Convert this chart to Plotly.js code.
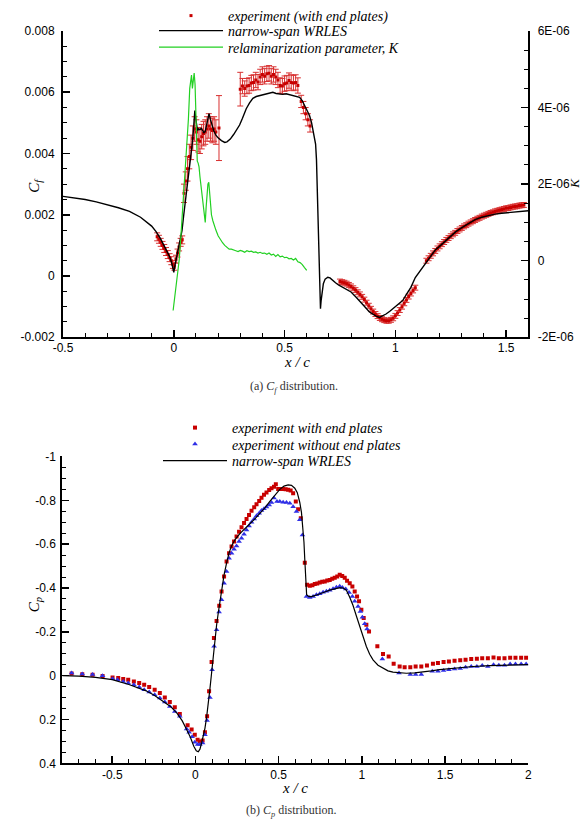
<!DOCTYPE html>
<html>
<head>
<meta charset="utf-8">
<script src="https://cdn.plot.ly/plotly-3.0.1.min.js"></script>
<style>
  html, body { margin: 0; padding: 0; background: #fff; }
  #chart { width: 581px; height: 830px; }
</style>
</head>
<body>
<div id="chart"></div>
<script>
// ---------- (a) skin friction coefficient ----------
// narrow-span WRLES, C_f along x/c
const cfLesX = [-0.50,-0.45,-0.40,-0.35,-0.30,-0.25,-0.20,-0.15,-0.10,-0.08,-0.06,-0.04,-0.02,-0.01,0.000,0.004,0.010,0.015,0.020,0.030,0.037,0.045,0.052,0.060,0.068,0.077,0.083,0.088,0.092,0.095,0.099,0.103,0.107,0.112,0.118,0.124,0.130,0.136,0.142,0.148,0.153,0.159,0.165,0.172,0.180,0.190,0.200,0.215,0.230,0.240,0.255,0.270,0.285,0.297,0.310,0.327,0.342,0.357,0.372,0.387,0.402,0.417,0.432,0.447,0.462,0.477,0.492,0.507,0.522,0.537,0.552,0.568,0.580,0.590,0.600,0.613,0.622,0.628,0.635,0.640,0.644,0.647,0.650,0.653,0.656,0.658,0.660,0.662,0.665,0.669,0.675,0.683,0.695,0.705,0.718,0.730,0.745,0.760,0.780,0.800,0.823,0.845,0.865,0.883,0.898,0.913,0.928,0.943,0.958,0.975,0.995,1.015,1.033,1.050,1.070,1.090,1.110,1.123,1.140,1.160,1.180,1.198,1.220,1.245,1.273,1.300,1.330,1.360,1.390,1.420,1.450,1.480,1.510,1.540,1.570,1.600];
const cfLesY = [0.00260,0.00256,0.00250,0.00242,0.00233,0.00223,0.00211,0.00192,0.00163,0.00145,0.00122,0.00095,0.00065,0.00045,0.00012,0.00030,0.00052,0.00062,0.00080,0.00120,0.00148,0.00200,0.00240,0.00280,0.00325,0.00377,0.00430,0.00470,0.00510,0.00540,0.00515,0.00485,0.00475,0.00480,0.00478,0.00482,0.00474,0.00468,0.00472,0.00496,0.00515,0.00530,0.00512,0.00493,0.00475,0.00460,0.00451,0.00442,0.00436,0.00438,0.00447,0.00462,0.00478,0.00493,0.00515,0.00546,0.00565,0.00580,0.00586,0.00589,0.00591,0.00594,0.00596,0.00600,0.00596,0.00595,0.00593,0.00595,0.00592,0.00590,0.00588,0.00583,0.00572,0.00556,0.00542,0.00523,0.00500,0.00474,0.00450,0.00431,0.00380,0.00300,0.00220,0.00138,0.00050,-0.00025,-0.00080,-0.00107,-0.00080,-0.00047,-0.00025,-0.00010,-0.00004,-0.00006,-0.00015,-0.00022,-0.00030,-0.00036,-0.00043,-0.00052,-0.00069,-0.00085,-0.00103,-0.00117,-0.00125,-0.00131,-0.00135,-0.00130,-0.00124,-0.00115,-0.00103,-0.00092,-0.00080,-0.00060,-0.00037,-0.00005,0.00015,0.00029,0.00048,0.00067,0.00085,0.00096,0.00110,0.00128,0.00145,0.00158,0.00172,0.00184,0.00192,0.00198,0.00202,0.00205,0.00207,0.00209,0.00211,0.00213];

// experiment (with end plates): C_f and its uncertainty
const cfExpX = [-0.075,-0.067,-0.059,-0.051,-0.043,-0.035,-0.027,-0.019,-0.011,-0.004,0.003,0.010,0.017,0.024,0.031,0.038,
  0.046,0.054,0.062,0.070,0.078,0.086,0.094,0.102,0.110,0.118,0.126,0.134,0.142,0.150,0.158,0.166,0.174,0.182,0.190,0.204,
  0.30,0.31,0.32,0.33,0.34,0.35,0.36,0.37,0.38,0.39,0.40,0.41,0.42,0.43,0.44,0.45,0.46,0.47,0.48,0.49,0.50,0.51,0.52,0.53,0.54,0.55,0.56,0.575,0.585,0.595,0.605,0.615,
  0.75,0.76,0.77,0.78,0.79,0.80,0.81,0.82,0.83,0.84,0.85,0.86,0.87,0.88,0.89,0.90,0.91,0.92,0.93,0.94,0.95,0.96,0.97,0.98,0.99,1.00,1.01,1.02,1.03,1.04,1.05,1.06,1.07,1.08,1.09,
  1.14,1.15,1.16,1.17,1.18,1.19,1.20,1.21,1.22,1.23,1.24,1.25,1.26,1.27,1.28,1.29,1.30,1.31,1.32,1.33,1.34,1.35,1.36,1.37,1.38,1.39,1.40,1.41,1.42,1.43,1.44,1.45,1.46,1.47,1.48,1.49,1.50,1.51,1.52,1.53,1.54,1.55,1.56,1.57,1.58];
const cfExpY = [0.00128,0.00120,0.00110,0.00100,0.00090,0.00080,0.00070,0.00060,0.00050,0.00038,0.00032,0.00055,0.00075,0.00095,0.00110,0.00118,
  0.00270,0.00310,0.00350,0.00390,0.00420,0.00450,0.00480,0.00470,0.00445,0.00440,0.00455,0.00465,0.00470,0.00480,0.00490,0.00480,0.00475,0.00480,0.00470,0.00483,
  0.00610,0.00620,0.00612,0.00620,0.00622,0.00630,0.00632,0.00640,0.00633,0.00650,0.00658,0.00652,0.00660,0.00662,0.00652,0.00658,0.00650,0.00640,0.00622,0.00620,0.00628,0.00630,0.00638,0.00632,0.00630,0.00632,0.00622,0.00570,0.00550,0.00530,0.00510,0.00490,
  -0.00018,-0.00020,-0.00022,-0.00025,-0.00029,-0.00034,-0.00040,-0.00046,-0.00053,-0.00060,-0.00068,-0.00077,-0.00087,-0.00097,-0.00107,-0.00116,-0.00124,-0.00131,-0.00137,-0.00141,-0.00144,-0.00146,-0.00146,-0.00143,-0.00138,-0.00130,-0.00121,-0.00111,-0.00100,-0.00089,-0.00078,-0.00067,-0.00057,-0.00047,-0.00038,
  0.00050,0.00058,0.00066,0.00074,0.00082,0.00090,0.00097,0.00104,0.00111,0.00118,0.00124,0.00130,0.00136,0.00141,0.00147,0.00152,0.00157,0.00162,0.00166,0.00171,0.00175,0.00179,0.00183,0.00187,0.00190,0.00194,0.00197,0.00200,0.00203,0.00206,0.00208,0.00211,0.00213,0.00215,0.00217,0.00219,0.00221,0.00222,0.00224,0.00226,0.00227,0.00228,0.00230,0.00231,0.00232];
const cfExpErr = [0.00013,0.00013,0.00013,0.00013,0.00013,0.00013,0.00013,0.00013,0.00013,0.00013,0.00013,0.00013,0.00013,0.00013,0.00013,0.00013,
  0.0003,0.0003,0.0004,0.0004,0.0004,0.0004,0.0004,0.0004,0.0004,0.0004,0.0004,0.0004,0.0004,0.0004,0.0004,0.0004,0.0004,0.0004,0.0004,0.00106,
  0.00055,0.00025,0.00025,0.00025,0.00025,0.00025,0.00025,0.00025,0.00025,0.00025,0.00025,0.00025,0.00025,0.00025,0.00025,0.00025,0.00025,0.00025,0.00025,0.00025,0.00025,0.00025,0.00025,0.00025,0.00025,0.00025,0.00025,0.0002,0.0002,0.0002,0.0002,0.0002,
  0.00008,0.00008,0.00008,0.00008,0.00008,0.00008,0.00008,0.00008,0.00008,0.00008,0.00008,0.00008,0.00008,0.00008,0.00008,0.00008,0.00008,0.00008,0.00008,0.00008,0.00008,0.00008,0.00008,0.00008,0.00008,0.00008,0.00008,0.00008,0.00008,0.00008,0.00008,0.00008,0.00008,0.00008,0.00008,
  0.00008,0.00008,0.00008,0.00008,0.00008,0.00008,0.00008,0.00008,0.00008,0.00008,0.00008,0.00008,0.00008,0.00008,0.00008,0.00008,0.00008,0.00008,0.00008,0.00008,0.00008,0.00008,0.00008,0.00008,0.00008,0.00008,0.00008,0.00008,0.00008,0.00008,0.00008,0.00008,0.00008,0.00008,0.00008,0.00008,0.00008,0.00008,0.00008,0.00008,0.00008,0.00008,0.00008,0.00008,0.00008];

// relaminarization parameter K (right axis)
const kX = [-0.003,0.003,0.008,0.012,0.018,0.024,0.030,0.036,0.042,0.048,0.054,0.060,0.066,0.072,0.076,0.080,0.084,0.088,0.092,0.096,0.100,0.102,0.106,0.110,0.114,0.118,0.122,0.126,0.130,0.134,0.138,0.142,0.146,0.150,0.154,0.158,0.162,0.166,0.170,0.176,0.182,0.190,0.200,0.210,0.220,0.230,0.240,0.250,0.260,0.270,0.280,0.290,0.300,0.310,0.320,0.330,0.340,0.350,0.360,0.370,0.380,0.390,0.400,0.410,0.420,0.430,0.440,0.450,0.460,0.470,0.480,0.490,0.500,0.510,0.520,0.530,0.540,0.550,0.560,0.570,0.580,0.590,0.600];
const kY = [-1.30e-6,-1.00e-6,-0.80e-6,-0.65e-6,-0.35e-6,0.00e-6,0.45e-6,0.95e-6,1.50e-6,2.00e-6,2.50e-6,3.10e-6,3.70e-6,4.50e-6,4.75e-6,4.85e-6,4.50e-6,4.80e-6,4.90e-6,4.60e-6,3.60e-6,3.00e-6,2.60e-6,2.55e-6,2.45e-6,2.20e-6,2.00e-6,1.90e-6,1.75e-6,1.55e-6,1.20e-6,1.00e-6,1.40e-6,1.75e-6,2.00e-6,2.05e-6,1.80e-6,1.45e-6,1.20e-6,1.05e-6,0.92e-6,0.80e-6,0.65e-6,0.55e-6,0.47e-6,0.40e-6,0.36e-6,0.30e-6,0.30e-6,0.27e-6,0.26e-6,0.24e-6,0.27e-6,0.25e-6,0.22e-6,0.26e-6,0.24e-6,0.25e-6,0.22e-6,0.23e-6,0.20e-6,0.22e-6,0.19e-6,0.20e-6,0.17e-6,0.20e-6,0.15e-6,0.17e-6,0.11e-6,0.16e-6,0.10e-6,0.12e-6,0.08e-6,0.09e-6,0.05e-6,0.06e-6,0.02e-6,0.06e-6,-0.03e-6,-0.05e-6,-0.10e-6,-0.18e-6,-0.25e-6];

// ---------- (b) pressure coefficient ----------
const cpLesX = [-0.80,-0.70,-0.60,-0.50,-0.40,-0.30,-0.25,-0.20,-0.15,-0.11,-0.08,-0.05,-0.03,-0.01,0.005,0.017,0.027,0.037,0.047,0.057,0.067,0.077,0.087,0.097,0.107,0.117,0.127,0.137,0.147,0.157,0.172,0.187,0.202,0.217,0.237,0.267,0.297,0.327,0.357,0.387,0.417,0.447,0.477,0.507,0.532,0.557,0.577,0.597,0.612,0.627,0.637,0.645,0.652,0.657,0.661,0.665,0.668,0.680,0.697,0.720,0.747,0.777,0.807,0.837,0.867,0.887,0.907,0.927,0.947,0.967,0.987,1.007,1.027,1.047,1.067,1.097,1.127,1.157,1.187,1.227,1.267,1.317,1.367,1.417,1.467,1.567,1.667,1.767,1.867,1.967,2.000];
const cpLesY = [0.000,0.002,0.008,0.018,0.040,0.068,0.088,0.112,0.140,0.172,0.205,0.250,0.282,0.322,0.343,0.347,0.335,0.307,0.275,0.240,0.190,0.135,0.060,-0.012,-0.090,-0.164,-0.230,-0.286,-0.340,-0.392,-0.460,-0.513,-0.560,-0.592,-0.620,-0.648,-0.672,-0.693,-0.715,-0.738,-0.765,-0.795,-0.825,-0.850,-0.865,-0.870,-0.868,-0.855,-0.835,-0.790,-0.745,-0.680,-0.610,-0.530,-0.450,-0.390,-0.369,-0.362,-0.361,-0.366,-0.375,-0.382,-0.390,-0.397,-0.402,-0.400,-0.390,-0.358,-0.320,-0.272,-0.225,-0.178,-0.133,-0.098,-0.072,-0.048,-0.033,-0.022,-0.016,-0.012,-0.011,-0.013,-0.016,-0.022,-0.028,-0.036,-0.042,-0.046,-0.049,-0.050,-0.050];

// experiment with end plates
const cpEpX = [-0.744,-0.680,-0.618,-0.558,-0.498,-0.464,-0.434,-0.404,-0.370,-0.338,-0.308,-0.278,-0.245,-0.214,-0.184,-0.154,-0.124,-0.094,-0.047,-0.023,-0.004,0.013,0.027,0.043,0.057,0.070,0.082,0.097,0.111,0.127,0.143,0.157,0.172,0.187,0.202,0.217,0.232,0.247,0.262,0.277,0.292,0.307,0.322,0.337,0.353,0.367,0.383,0.397,0.412,0.427,0.443,0.457,0.472,0.483,0.497,0.512,0.527,0.542,0.557,0.572,0.587,0.603,0.617,0.633,0.657,
  0.671,0.687,0.703,0.717,0.732,0.747,0.762,0.777,0.792,0.807,0.822,0.837,0.852,0.867,0.882,0.897,0.911,0.927,0.943,0.957,0.971,0.983,0.997,1.011,1.027,1.043,1.093,1.127,1.161,1.191,1.227,1.257,1.291,1.323,1.357,1.391,1.427,1.457,1.491,1.523,1.557,1.591,1.623,1.657,1.691,1.723,1.757,1.791,1.823,1.857,1.891,1.923,1.957,1.987];
const cpEpY = [-0.010,-0.007,-0.004,0.001,0.008,0.011,0.015,0.018,0.026,0.033,0.041,0.052,0.064,0.079,0.099,0.120,0.144,0.175,0.226,0.246,0.269,0.292,0.300,0.296,0.258,0.185,0.071,-0.062,-0.172,-0.250,-0.319,-0.384,-0.452,-0.521,-0.559,-0.589,-0.612,-0.635,-0.657,-0.677,-0.696,-0.715,-0.733,-0.752,-0.768,-0.782,-0.797,-0.812,-0.825,-0.835,-0.847,-0.855,-0.862,-0.873,-0.852,-0.851,-0.851,-0.850,-0.848,-0.845,-0.832,-0.794,-0.759,-0.718,-0.515,
  -0.415,-0.410,-0.412,-0.418,-0.420,-0.425,-0.428,-0.430,-0.434,-0.437,-0.442,-0.447,-0.452,-0.460,-0.455,-0.447,-0.433,-0.422,-0.407,-0.384,-0.361,-0.339,-0.301,-0.263,-0.232,-0.202,-0.134,-0.099,-0.088,-0.055,-0.042,-0.039,-0.038,-0.042,-0.042,-0.046,-0.055,-0.058,-0.062,-0.065,-0.068,-0.070,-0.073,-0.076,-0.077,-0.079,-0.080,-0.083,-0.079,-0.079,-0.082,-0.082,-0.082,-0.082];

// experiment without end plates
const cpNoX = [-0.744,-0.680,-0.618,-0.558,-0.498,-0.468,-0.434,-0.404,-0.370,-0.338,-0.308,-0.278,-0.245,-0.214,-0.184,-0.154,-0.124,-0.094,-0.053,-0.038,-0.020,-0.004,0.013,0.027,0.043,0.057,0.070,0.087,0.100,0.112,0.127,0.142,0.157,0.172,0.187,0.202,0.217,0.232,0.247,0.262,0.277,0.292,0.307,0.322,0.337,0.353,0.367,0.383,0.397,0.412,0.427,0.443,0.457,0.472,0.490,0.507,0.527,0.547,0.567,0.587,0.607,0.627,0.643,
  0.667,0.687,0.707,0.727,0.747,0.767,0.787,0.807,0.827,0.847,0.867,0.883,0.903,0.923,0.943,0.957,0.977,0.991,1.003,1.017,1.031,1.123,1.223,1.291,1.323,1.357,1.423,1.457,1.491,1.523,1.557,1.591,1.623,1.657,1.691,1.723,1.757,1.791,1.823,1.857,1.891,1.923,1.957,1.987];
const cpNoY = [-0.012,-0.008,-0.005,0.000,0.014,0.018,0.026,0.033,0.041,0.052,0.064,0.074,0.087,0.102,0.120,0.140,0.163,0.185,0.243,0.258,0.279,0.304,0.314,0.314,0.307,0.269,0.204,0.099,-0.027,-0.134,-0.210,-0.290,-0.346,-0.422,-0.475,-0.536,-0.559,-0.577,-0.592,-0.612,-0.627,-0.645,-0.665,-0.683,-0.700,-0.715,-0.729,-0.741,-0.753,-0.761,-0.769,-0.779,-0.790,-0.810,-0.795,-0.794,-0.791,-0.790,-0.787,-0.771,-0.749,-0.711,-0.642,
  -0.361,-0.357,-0.361,-0.369,-0.374,-0.381,-0.385,-0.390,-0.396,-0.403,-0.408,-0.402,-0.395,-0.380,-0.361,-0.339,-0.316,-0.293,-0.267,-0.237,-0.213,-0.076,-0.012,-0.005,-0.005,-0.005,-0.020,-0.020,-0.024,-0.027,-0.030,-0.033,-0.038,-0.042,-0.042,-0.046,-0.042,-0.050,-0.048,-0.048,-0.053,-0.053,-0.053,-0.053];

// tick positions and labels
const cfXTicks = [-0.5, 0, 0.5, 1, 1.5];
const cfXLabels = ['-0.5', '0', '0.5', '1', '1.5'];
const cfYTicks = [-0.002, 0, 0.002, 0.004, 0.006, 0.008];
const cfYLabels = ['-0.002', '0', '0.002', '0.004', '0.006', '0.008'];
const kTicks = [-2e-6, 0, 2e-6, 4e-6, 6e-6];
const kLabels = ['-2E-06', '0', '2E-06', '4E-06', '6E-06'];
const cpXTicks = [-0.5, 0, 0.5, 1, 1.5, 2];
const cpXLabels = ['-0.5', '0', '0.5', '1', '1.5', '2'];
const cpYTicks = [-1, -0.8, -0.6, -0.4, -0.2, 0, 0.2, 0.4];
const cpYLabels = ['-1', '-0.8', '-0.6', '-0.4', '-0.2', '0', '0.2', '0.4'];

// ---------- page geometry helpers (pixels -> paper fraction) ----------
const W = 581, H = 830;
const fx = p => p / W;
const fy = p => 1 - p / H;

const RED = '#c80000';
const BLUE = '#2f2fe6';
const GREEN = '#22d022';
const tickFont = { family: 'Liberation Sans, Arial, sans-serif', size: 12, color: '#000' };
const serif = 'Liberation Serif, Times New Roman, serif';

function axisStyle(extra) {
  return Object.assign({
    showline: true, linewidth: 2, linecolor: '#000',
    ticks: 'inside', ticklen: 7, tickwidth: 1.5, tickcolor: '#000',
    showgrid: false, zeroline: false, tickmode: 'array',
    tickfont: tickFont, fixedrange: true
  }, extra);
}
function minor(tick0, dtick) {
  return { tickmode: 'linear', tick0: tick0, dtick: dtick, ticks: 'inside', ticklen: 4, tickwidth: 1, tickcolor: '#000', showgrid: false };
}

const traces = [
  {
    name: 'experiment (with end plates)', x: cfExpX, y: cfExpY, xaxis: 'x', yaxis: 'y',
    type: 'scatter', mode: 'markers', legend: 'legend',
    marker: { symbol: 'square', size: 3, color: RED },
    error_y: { type: 'data', array: cfExpErr, visible: true, color: '#d83030', thickness: 1, width: 3 }
  },
  {
    name: 'narrow-span WRLES', x: cfLesX, y: cfLesY, xaxis: 'x', yaxis: 'y',
    type: 'scatter', mode: 'lines', legend: 'legend2',
    line: { color: '#000', width: 1.4 }
  },
  {
    name: 'relaminarization parameter, K', x: kX, y: kY, xaxis: 'x', yaxis: 'y2',
    type: 'scatter', mode: 'lines', legend: 'legend3',
    line: { color: GREEN, width: 1.2 }
  },
  {
    name: 'experiment with end plates', x: cpEpX, y: cpEpY, xaxis: 'x2', yaxis: 'y3',
    type: 'scatter', mode: 'markers', legend: 'legend4',
    marker: { symbol: 'square', size: 4, color: RED }
  },
  {
    name: 'experiment without end plates', x: cpNoX, y: cpNoY, xaxis: 'x2', yaxis: 'y3',
    type: 'scatter', mode: 'markers', legend: 'legend5',
    marker: { symbol: 'triangle-up', size: 5, color: BLUE }
  },
  {
    name: 'narrow-span WRLES', x: cpLesX, y: cpLesY, xaxis: 'x2', yaxis: 'y3',
    type: 'scatter', mode: 'lines', legend: 'legend6',
    line: { color: '#000', width: 1.2 }
  }
];

function legendAt(xPix, yPix) {
  return {
    x: fx(xPix), y: fy(yPix), xanchor: 'left', yanchor: 'middle',
    bgcolor: 'rgba(0,0,0,0)', borderwidth: 0, itemwidth: 64,
    font: { family: serif, size: 14, style: 'italic', color: '#000' }
  };
}

function note(text, xPix, yPix, size, extra) {
  return Object.assign({
    text: text, xref: 'paper', yref: 'paper', x: fx(xPix), y: fy(yPix),
    xanchor: 'center', yanchor: 'middle', showarrow: false,
    font: { family: serif, size: size, color: '#000' }
  }, extra || {});
}

const layout = {
  width: W, height: H,
  margin: { l: 0, r: 0, t: 0, b: 0 },
  paper_bgcolor: '#fff', plot_bgcolor: 'rgba(0,0,0,0)',
  showlegend: true,
  xaxis: axisStyle({
    domain: [fx(63), fx(528.3)], anchor: 'y', range: [-0.5, 1.6],
    tickvals: cfXTicks, ticktext: cfXLabels, minor: minor(0, 0.1), ticklabelstandoff: -2
  }),
  yaxis: axisStyle({
    domain: [fy(336.7), fy(30)], anchor: 'x', range: [-0.002, 0.008],
    tickvals: cfYTicks, ticktext: cfYLabels, minor: minor(0, 0.0005), ticklabelstandoff: 4
  }),
  yaxis2: axisStyle({
    domain: [fy(336.7), fy(30)], anchor: 'x', overlaying: 'y', side: 'right', range: [-2e-6, 6e-6],
    tickvals: kTicks, ticktext: kLabels, minor: minor(0, 5e-7), ticklabelstandoff: 5
  }),
  xaxis2: axisStyle({
    domain: [fx(62.3), fx(528.3)], anchor: 'y3', range: [-0.8, 2],
    tickvals: cpXTicks, ticktext: cpXLabels, minor: minor(0, 0.1), ticklabelstandoff: -1
  }),
  yaxis3: axisStyle({
    domain: [fy(763.3), fy(456)], anchor: 'x2', range: [0.4, -1],
    tickvals: cpYTicks, ticktext: cpYLabels, minor: minor(0, 0.05), ticklabelstandoff: 2
  }),
  legend: legendAt(154, 15),
  legend2: legendAt(154, 31),
  legend3: legendAt(154, 47.5),
  legend4: legendAt(158, 428),
  legend5: legendAt(158, 444.5),
  legend6: legendAt(158, 461),
  annotations: [
    note('<i>x / c</i>', 297, 361, 15),
    note('<i>C<sub>f</sub></i>', 35, 185, 15, { textangle: -90 }),
    note('<i>K</i>', 575, 183, 13, { textangle: -90 }),
    note('(a) <i>C<sub>f</sub></i> distribution.', 294, 386, 12, { font: { family: serif, size: 12, color: '#333' } }),
    note('<i>x / c</i>', 295, 788, 15),
    note('<i>C<sub>p</sub></i>', 35, 605, 15, { textangle: -90 }),
    note('(b) <i>C<sub>p</sub></i> distribution.', 291, 811, 12, { font: { family: serif, size: 12, color: '#333' } })
  ]
};

Plotly.newPlot('chart', traces, layout, { displayModeBar: false, staticPlot: true });
</script>
</body>
</html>
